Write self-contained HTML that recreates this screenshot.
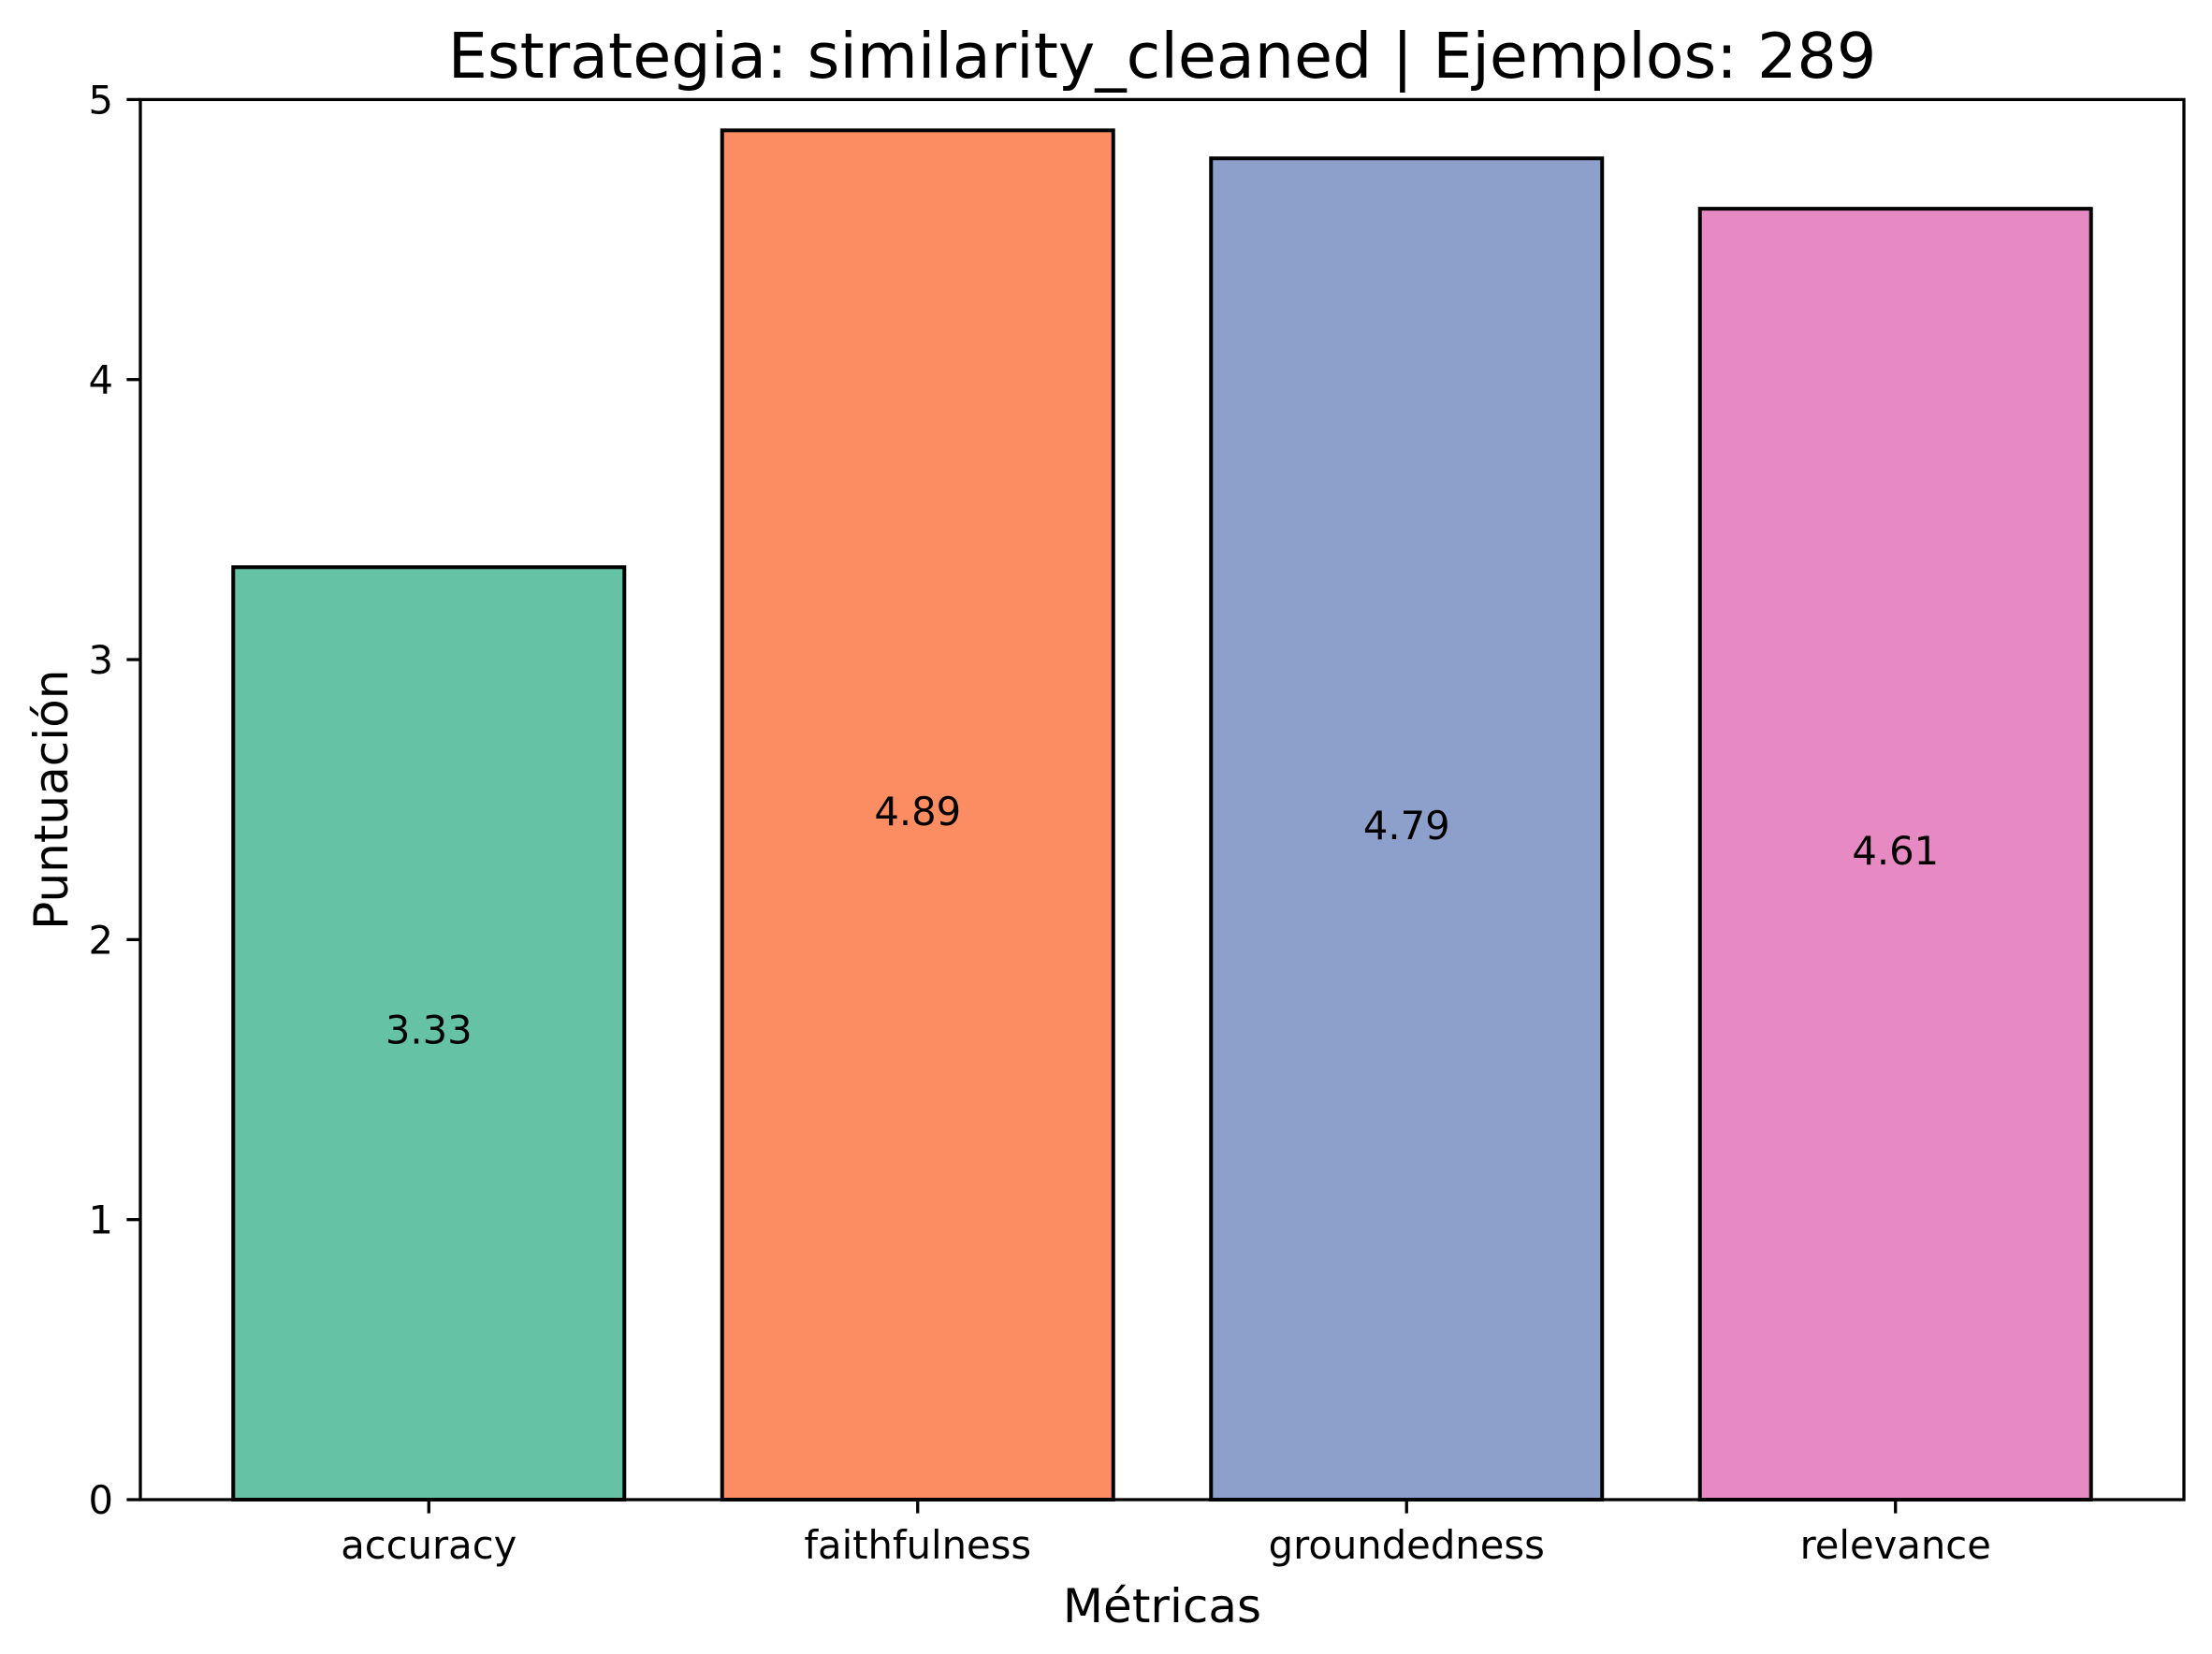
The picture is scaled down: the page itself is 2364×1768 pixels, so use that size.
<!DOCTYPE html>
<html><head><meta charset="utf-8"><style>html,body{margin:0;padding:0;background:#fff}svg{display:block}text{font-family:"DejaVu Sans","Liberation Sans",sans-serif;fill:#000}</style></head>
<body>
<svg id="chart" width="2364" height="1768" viewBox="0 0 2364 1768" xmlns="http://www.w3.org/2000/svg">
<rect width="2364" height="1768" fill="#fff"/>
<g id="bars"></g>
<g id="labels"></g>
<g id="axes"></g>
</svg>
<script>
const categories = ["accuracy", "faithfulness", "groundedness", "relevance"];
const values = [3.33, 4.89, 4.79, 4.61];
const valueLabels = ["3.33", "4.89", "4.79", "4.61"];
const colors = ["#66c2a5", "#fc8d62", "#8da0cb", "#e78ac3"];
const yTicks = [0, 1, 2, 3, 4, 5];

const NS = "http://www.w3.org/2000/svg";
const L = 150, R = 2334, T = 106.4, B = 1603;
const xMin = -0.59, xMax = 3.59, yMin = 0, yMax = 5;
const xs = v => L + (v - xMin) / (xMax - xMin) * (R - L);
const ys = v => B - (v - yMin) / (yMax - yMin) * (B - T);
function mk(tag, attrs, parent, txt) {
  const e = document.createElementNS(NS, tag);
  for (const k in attrs) e.setAttribute(k, attrs[k]);
  if (txt !== undefined) e.textContent = txt;
  parent.appendChild(e);
  return e;
}
const gB = document.getElementById('bars'), gL = document.getElementById('labels'), gA = document.getElementById('axes');
const bw = 0.8;
categories.forEach((c, i) => {
  const x0 = xs(i - bw / 2), x1 = xs(i + bw / 2), y = ys(values[i]);
  const r = mk('rect', {x: x0, y: y, width: x1 - x0, height: ys(0) - y, fill: colors[i], stroke: '#000', 'stroke-width': 4}, gB);
  
  
  const t = mk('text', {x: xs(i), y: (ys(values[i]) + ys(0)) / 2 + 11, 'font-size': 41.7, 'text-anchor': 'middle'}, gL, valueLabels[i]);
  
  
  const tk = mk('line', {x1: xs(i), x2: xs(i), y1: B, y2: B + 14.6, stroke: '#000', 'stroke-width': 3.3}, gA);
  
  
  const tl = mk('text', {x: xs(i), y: 1666, 'font-size': 41.7, 'text-anchor': 'middle'}, gA, c);
  
  
});
yTicks.forEach(v => {
  const tk = mk('line', {x1: L - 14.6, x2: L, y1: ys(v), y2: ys(v), stroke: '#000', 'stroke-width': 3.3}, gA);
  
  
  const tl = mk('text', {x: L - 29, y: ys(v) + 15, 'font-size': 41.7, 'text-anchor': 'end'}, gA, String(v));
  
  
});
const frame = mk('rect', {x: L, y: T, width: R - L, height: B - T, fill: 'none', stroke: '#000', 'stroke-width': 3.3}, gA);


const title = mk('text', {x: (L + R) / 2, y: 83, 'font-size': 66.7, 'text-anchor': 'middle'}, gA, 'Estrategia: similarity_cleaned | Ejemplos: 289');


const xl = mk('text', {x: (L + R) / 2, y: 1734, 'font-size': 50, 'text-anchor': 'middle'}, gA, 'Métricas');


const yl = mk('text', {x: 0, y: 0, 'font-size': 50, 'text-anchor': 'middle', transform: 'translate(72,' + ((T + B) / 2) + ') rotate(-90)'}, gA, 'Puntuación');


</script>
</body></html>
